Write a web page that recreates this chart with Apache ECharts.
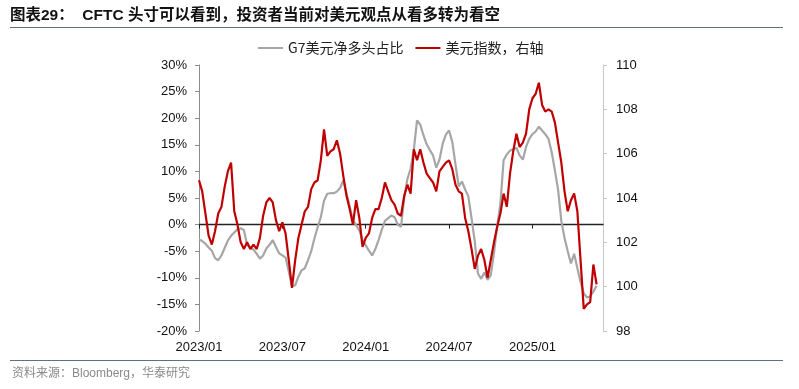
<!DOCTYPE html>
<html>
<head>
<meta charset="utf-8">
<script src="https://cdn.jsdelivr.net/npm/echarts@6/dist/echarts.min.js"></script>
<style>
html,body{margin:0;padding:0;background:#fff;}
#chart{width:799px;height:389px;}
</style>
</head>
<body>
<div id="chart"></div>
<script>
// Weekly observations, first week 2023-01-06
const startDate = '2023-01-06';
const nWeeks = 127; // axis spans 127 weekly slots; data fills the first 125

const g7NetLong = [-2.8,-3.1,-3.6,-4.3,-4.9,-6.3,-6.7,-5.8,-4.4,-3.0,
-2.1,-1.5,-0.9,-0.7,-1.0,-3.8,-4.3,-4.7,-5.5,-6.4,
-5.8,-4.5,-3.8,-2.9,-4.2,-5.4,-5.8,-6.2,-8.8,-11.6,
-11.4,-9.8,-8.6,-8.2,-6.7,-5.0,-2.6,-0.5,1.4,4.5,
5.8,5.9,5.9,6.2,6.9,8.3,5.9,3.4,0.8,-0.1,
-1.1,-2.9,-3.9,-4.9,-5.8,-4.6,-2.9,-1.0,0.7,1.2,
1.7,1.4,0.0,-0.4,5.0,8.6,10.5,14.1,19.6,18.8,
16.8,15.1,14.0,13.0,10.7,12.2,15.2,16.9,17.7,15.5,
11.3,7.2,8.1,6.6,5.3,1.2,-3.1,-9.2,-10.2,-9.0,
-10.4,-9.5,-5.3,-0.3,3.9,12.1,13.2,13.9,14.2,14.4,
13.0,12.2,14.6,16.1,17.0,17.5,18.4,17.7,17.0,16.1,
13.6,10.2,6.5,0.7,-2.5,-5.0,-7.3,-5.5,-8.2,-10.8,
-12.9,-13.7,-13.5,-12.6,-11.5];

const dxy = [104.8,104.3,103.3,102.3,101.9,102.5,103.3,103.6,104.5,105.2,
105.6,103.4,102.8,102.0,101.7,102.0,101.7,101.9,101.7,102.2,
103.2,103.8,104.0,103.8,103.0,102.5,102.9,102.4,101.2,99.95,
101.2,102.2,102.8,103.4,103.6,104.4,104.7,104.8,105.7,107.1,
105.9,106.1,106.2,106.6,106.0,105.0,104.1,103.5,102.8,103.9,
103.1,101.8,102.2,102.4,103.1,103.5,103.5,104.0,104.7,104.3,
103.9,103.7,103.3,103.2,104.1,104.6,104.2,106.2,105.7,106.2,
105.6,105.1,104.9,104.7,104.3,105.2,105.4,105.6,105.7,105.3,
104.6,104.3,104.2,103.1,102.5,101.7,100.8,101.4,101.7,101.2,
100.4,101.2,102.0,102.7,103.3,104.2,103.6,105.1,106.1,106.9,
106.3,106.5,106.9,108.0,108.5,108.7,109.2,108.2,107.9,108.0,
107.9,107.4,106.5,105.6,104.3,103.4,103.9,104.2,103.4,101.2,
99.0,99.2,99.3,101.0,100.1];

const leftTicks = {min: -20, max: 30, interval: 5};
const rightTicks = {min: 98, max: 110, interval: 2};
const labelEvery = 26;

const seriesNames = ['G7美元净多头占比', '美元指数，右轴'];
const titleText = '图表29：  CFTC 头寸可以看到，投资者当前对美元观点从看多转为看空';
const sourceText = '资料来源：Bloomberg，华泰研究';

// build weekly category dates
const categories = [];
(function(){
  const d0 = new Date(startDate + 'T00:00:00Z');
  for (let i = 0; i < nWeeks; i++) {
    const d = new Date(d0.getTime() + i * 7 * 86400000);
    const m = d.getUTCMonth() + 1;
    const dd = d.getUTCDate();
    categories.push(d.getUTCFullYear() + '-' + (m < 10 ? '0' + m : m) + '-' + (dd < 10 ? '0' + dd : dd));
  }
})();

const fmtLabel = v => v.slice(0, 4) + '/' + v.slice(5, 7);
const showIdx = (idx) => idx % labelEvery === 0;

const chart = echarts.init(document.getElementById('chart'), null, {renderer: 'canvas'});
const axisFont = '"Liberation Sans", Arial, sans-serif';
const cjkFont = '"Liberation Sans", "Noto Sans CJK SC", sans-serif';

chart.setOption({
  animation: false,
  backgroundColor: '#ffffff',
  grid: {left: 199, right: 196, top: 65, bottom: 58, containLabel: false},
  legend: {
    data: seriesNames,
    left: 253,
    top: 36,
    itemWidth: 25,
    itemHeight: 2,
    itemGap: 12,
    icon: 'rect',
    textStyle: {fontSize: 14, color: '#222', fontFamily: '"Noto Sans CJK SC", sans-serif'}
  },
  xAxis: [
    {
      type: 'category',
      data: categories,
      boundaryGap: false,
      position: 'bottom',
      axisLine: {show: false, onZero: false},
      axisTick: {show: false},
      axisLabel: {interval: showIdx, formatter: fmtLabel, margin: 10, fontSize: 13, color: '#111', fontFamily: axisFont},
      splitLine: {show: false}
    },
    {
      type: 'category',
      data: categories,
      boundaryGap: false,
      position: 'bottom',
      axisLine: {show: true, onZero: true, onZeroAxisIndex: 0, lineStyle: {color: '#222', width: 1.3}},
      axisTick: {show: true, interval: showIdx, length: 4, inside: false, lineStyle: {color: '#222'}},
      axisLabel: {show: false},
      splitLine: {show: false}
    }
  ],
  yAxis: [
    {
      type: 'value',
      position: 'left',
      min: leftTicks.min, max: leftTicks.max, interval: leftTicks.interval,
      axisLine: {show: true, lineStyle: {color: '#8c8c8c', width: 1}},
      axisTick: {show: true, length: 4, lineStyle: {color: '#8c8c8c'}},
      axisLabel: {formatter: '{value}%', fontSize: 13, color: '#111', margin: 12, fontFamily: axisFont},
      splitLine: {show: false}
    },
    {
      type: 'value',
      position: 'right',
      min: rightTicks.min, max: rightTicks.max, interval: rightTicks.interval,
      axisLine: {show: true, lineStyle: {color: '#c8c8c8', width: 1}},
      axisTick: {show: true, length: 4, lineStyle: {color: '#c8c8c8'}},
      axisLabel: {fontSize: 13, color: '#111', margin: 13, fontFamily: axisFont},
      splitLine: {show: false}
    }
  ],
  series: [
    {
      name: seriesNames[0],
      type: 'line',
      xAxisIndex: 0,
      yAxisIndex: 0,
      data: g7NetLong,
      showSymbol: false,
      symbol: 'none',
      lineStyle: {color: '#a6a6a6', width: 2.2},
      itemStyle: {color: '#a6a6a6'},
      z: 2
    },
    {
      name: seriesNames[1],
      type: 'line',
      xAxisIndex: 0,
      yAxisIndex: 1,
      data: dxy,
      showSymbol: false,
      symbol: 'none',
      lineStyle: {color: '#c00000', width: 2.2},
      itemStyle: {color: '#c00000'},
      z: 3
    }
  ],
  graphic: [
    {type: 'text', left: 10, top: 8, style: {text: titleText, font: 'bold 15.5px ' + cjkFont, fill: '#111'}},
    {type: 'line', shape: {x1: 10, y1: 27.5, x2: 783, y2: 27.5}, style: {stroke: '#5d7183', lineWidth: 1.2}},
    {type: 'line', shape: {x1: 10, y1: 360.5, x2: 783, y2: 360.5}, style: {stroke: '#5d7183', lineWidth: 1.2}},
    {type: 'text', left: 12, top: 368, style: {text: sourceText, font: '12px ' + cjkFont, fill: '#8a8a8a'}}
  ]
});
</script>
</body>
</html>
